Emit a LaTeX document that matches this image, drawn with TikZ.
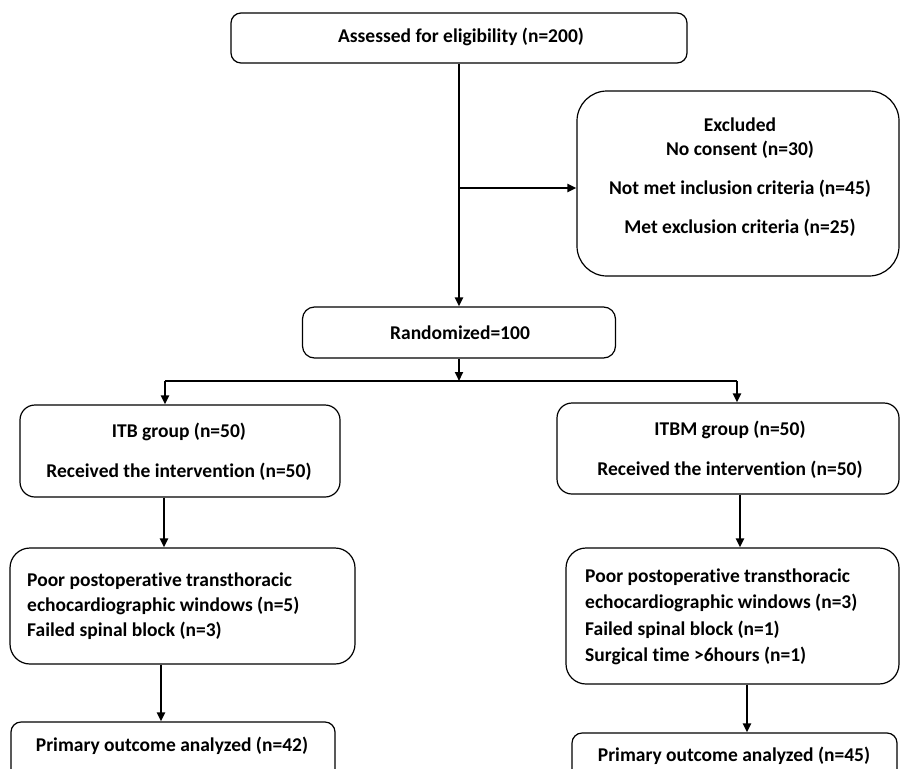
\documentclass[tikz,border=0pt]{standalone}
\usepackage{fontspec}
\setmainfont[Ligatures={NoCommon}]{Carlito}
\usetikzlibrary{arrows.meta}
\begin{document}
\begin{tikzpicture}[x=1pt,y=-1pt,
  box/.style={draw, line width=1.2pt, inner sep=0pt},
  lbl/.style={inner sep=0pt, font=\fontsize{19.5}{23}\selectfont\bfseries},
  lln/.style={lbl, anchor=west},
  conn/.style={line width=2pt},
  arr/.style={line width=2pt, -{Triangle[length=9pt,width=8pt]}}]
\useasboundingbox (0,0) rectangle (901,768);
\clip (0,0) rectangle (901,768);
\fill[white] (0,0) rectangle (901,768);
% boxes
\node[box, rounded corners=10pt, minimum width=456pt, minimum height=50pt] (assess) at (459,38) {};
\node[box, rounded corners=30pt, minimum width=322pt, minimum height=185pt] (excl) at (738,183.5) {};
\node[box, rounded corners=12pt, minimum width=313pt, minimum height=51pt] (rand) at (459,332.5) {};
\node[box, rounded corners=15pt, minimum width=320pt, minimum height=92pt] (itb) at (180,451) {};
\node[box, rounded corners=15pt, minimum width=342pt, minimum height=91pt] (itbm) at (728,448.5) {};
\node[box, rounded corners=20pt, minimum width=345pt, minimum height=116pt] (lw) at (182.5,606) {};
\node[box, rounded corners=20pt, minimum width=333pt, minimum height=136pt] (rw) at (732.5,616) {};
\node[box, rounded corners=10pt, minimum width=324pt, minimum height=68pt] (lo) at (173,756) {};
\node[box, rounded corners=10pt, minimum width=325pt, minimum height=67pt] (ro) at (734.5,766.5) {};
% texts
\node[lbl] (t1) at (461,37) {Assessed for eligibility (n=200)};
\node[lbl] (e1) at (740,125) {Excluded};
\node[lbl] (e2) at (740,150) {No consent (n=30)};
\node[lbl] (e3) at (740,189) {Not met inclusion criteria (n=45)};
\node[lbl] (e4) at (740,228) {Met exclusion criteria (n=25)};
\node[lbl] (t2) at (460,333) {Randomized=100};
\node[lbl] (a1) at (179,432) {ITB group (n=50)};
\node[lbl] (a2) at (179,472) {Received the intervention (n=50)};
\node[lbl] (b1) at (730,430) {ITBM group (n=50)};
\node[lbl] (b2) at (730,470) {Received the intervention (n=50)};
\node[lln] (l1) at (27,581) {Poor postoperative transthoracic};
\node[lln] (l2) at (27,606) {echocardiographic windows (n=5)};
\node[lln] (l3) at (27,631) {Failed spinal block (n=3)};
\node[lln] (r1) at (585,577) {Poor postoperative transthoracic};
\node[lln] (r2) at (585,603) {echocardiographic windows (n=3)};
\node[lln] (r3) at (585,630) {Failed spinal block (n=1)};
\node[lln] (r4) at (585,656) {Surgical time >6hours (n=1)};
\node[lbl] (o1) at (172,746) {Primary outcome analyzed (n=42)};
\node[lbl] (o2) at (734,756) {Primary outcome analyzed (n=45)};
% connectors
\draw[arr] (assess.south) -- (rand.north);
\coordinate (bx) at (459,188);
\draw[arr] (bx) -- (bx -| excl.west);
\coordinate (sm) at (459,381);
\coordinate (sl) at (165,381);
\coordinate (sr) at (737,381);
\draw[arr] (rand.south) -- (sm);
\draw[conn] (sl) -- (sr);
\draw[arr] (sl) -- (sl |- itb.north);
\draw[arr] (sr) -- (sr |- itbm.north);
\coordinate (cl1) at (164,520);
\coordinate (cl2) at (161,690);
\coordinate (cr1) at (740,520);
\coordinate (cr2) at (747,710);
\draw[arr] (cl1 |- itb.south) -- (cl1 |- lw.north);
\draw[arr] (cl2 |- lw.south) -- (cl2 |- lo.north);
\draw[arr] (cr1 |- itbm.south) -- (cr1 |- rw.north);
\draw[arr] (cr2 |- rw.south) -- (cr2 |- ro.north);
\end{tikzpicture}
\end{document}
